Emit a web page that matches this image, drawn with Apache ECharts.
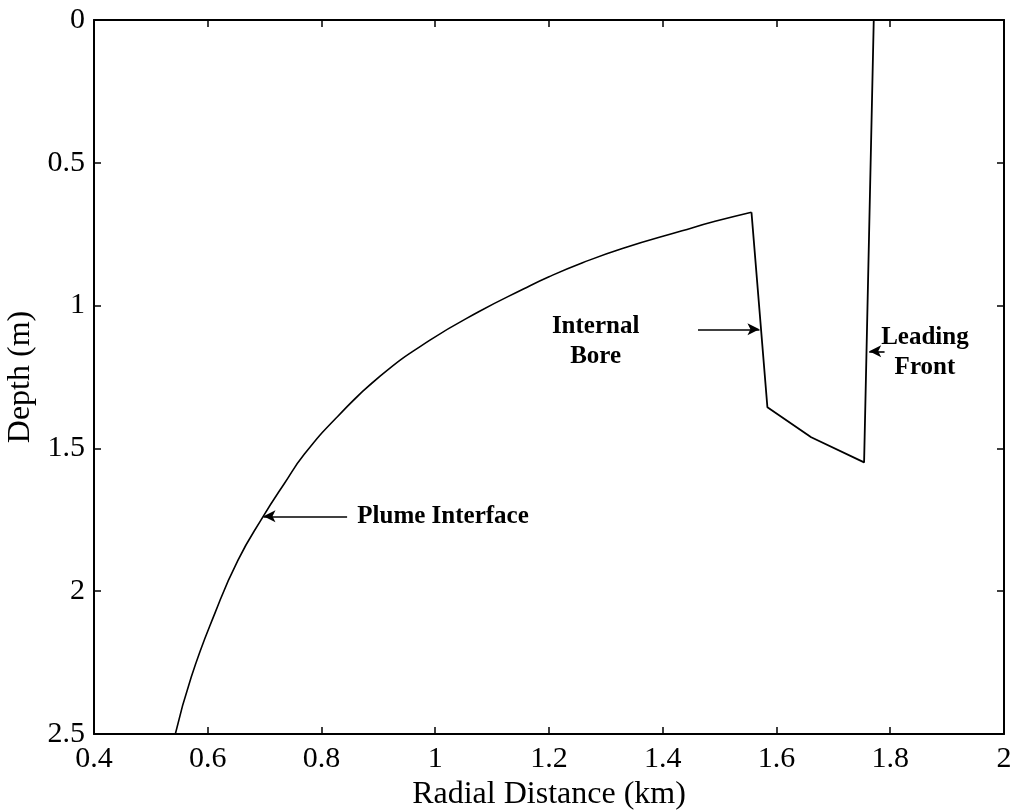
<!DOCTYPE html>
<html>
<head>
<meta charset="utf-8">
<script src="https://cdn.jsdelivr.net/npm/echarts@6/dist/echarts.min.js"></script>
<style>html,body{margin:0;padding:0;background:#fff}#c{width:1021px;height:810px}</style>
</head>
<body>
<div id="c"></div>
<script>
// Plume interface (smooth part): radial distance (km) and depth (m)
const plumeKm = [0.543, 0.571, 0.613, 0.653, 0.697, 0.735, 0.770, 0.828, 0.903, 0.990, 1.078, 1.155, 1.200, 1.259, 1.329, 1.434, 1.492, 1.556];
const plumeM  = [2.500, 2.300, 2.075, 1.892, 1.740, 1.622, 1.520, 1.389, 1.247, 1.122, 1.020, 0.942, 0.899, 0.850, 0.800, 0.738, 0.705, 0.673];
// Internal bore and leading front (straight segments)
const boreKm = [1.556, 1.584, 1.661, 1.754, 1.771];
const boreM  = [0.673, 1.356, 1.461, 1.549, 0.000];
const xTicks = [0.4, 0.6, 0.8, 1.0, 1.2, 1.4, 1.6, 1.8, 2.0];
const yTicks = [0, 0.5, 1, 1.5, 2, 2.5];
// annotation arrows: [fromX, fromY, toX, toY]
const arrows = [[0.845, 1.738, 0.698, 1.738], [1.462, 1.083, 1.570, 1.083], [1.790, 1.160, 1.763, 1.160]];
// annotation texts: [x, y, text, align]
const notes = [[0.863, 1.738, 'Plume Interface', 'left'], [1.282, 1.127, 'Internal\nBore', 'center'], [1.861, 1.163, 'Leading\nFront', 'center']];

const FONT = '"Liberation Serif", "DejaVu Serif", serif';
const chart = echarts.init(document.getElementById('c'));
const plumeData = plumeKm.map((x, i) => [x, plumeM[i]]);
const boreData = boreKm.map((x, i) => [x, boreM[i]]);
const axisBase = {
  type: 'value', splitLine: {show: false},
  axisLine: {show: true, onZero: false, lineStyle: {color: '#000', width: 2}},
  axisTick: {show: true, inside: true, length: 7, lineStyle: {color: '#000', width: 1.5}}
};
chart.setOption({
  animation: false,
  backgroundColor: '#fff',
  grid: {left: 94, right: 17, top: 20, bottom: 76, containLabel: false, outerBoundsMode: 'none'},
  xAxis: [
    Object.assign({}, axisBase, {position: 'bottom', min: xTicks[0], max: xTicks[xTicks.length-1], interval: 0.2,
      name: 'Radial Distance (km)', nameLocation: 'middle', nameGap: 42,
      nameTextStyle: {fontFamily: FONT, fontSize: 32, color: '#000'},
      axisLabel: {fontFamily: FONT, fontSize: 30, color: '#000', margin: 10}}),
    Object.assign({}, axisBase, {position: 'top', min: xTicks[0], max: xTicks[xTicks.length-1], interval: 0.2, axisLabel: {show: false}})
  ],
  yAxis: [
    Object.assign({}, axisBase, {position: 'left', inverse: true, min: yTicks[0], max: yTicks[yTicks.length-1], interval: 0.5,
      name: 'Depth (m)', nameLocation: 'middle', nameGap: 56,
      nameTextStyle: {fontFamily: FONT, fontSize: 32, color: '#000'},
      axisLabel: {fontFamily: FONT, fontSize: 30, color: '#000', margin: 9}}),
    Object.assign({}, axisBase, {position: 'right', inverse: true, min: yTicks[0], max: yTicks[yTicks.length-1], interval: 0.5, axisLabel: {show: false}})
  ],
  series: [{
    type: 'line', data: plumeData, showSymbol: false, symbol: 'none', smooth: 0.5,
    lineStyle: {color: '#000', width: 1.6},
    markLine: {
      silent: true, symbol: ['none', 'arrow'], symbolSize: [9, 12],
      label: {show: false},
      lineStyle: {color: '#000', width: 1.6, type: 'solid'},
      data: arrows.map(a => [{coord: [a[0], a[1]]}, {coord: [a[2], a[3]]}])
    }
  }, {
    type: 'line', data: boreData, showSymbol: false, symbol: 'none', smooth: false,
    lineStyle: {color: '#000', width: 1.8}
  }]
});
const g = notes.map(n => {
  const p = chart.convertToPixel({xAxisIndex: 0, yAxisIndex: 0}, [n[0], n[1]]);
  return {type: 'text', x: p[0], y: p[1], style: {text: n[2], fontFamily: FONT, fontSize: 25, fontWeight: 'bold', fill: '#000', align: n[3], verticalAlign: 'middle', lineHeight: 30}};
});
chart.setOption({graphic: g});
</script>
</body>
</html>
